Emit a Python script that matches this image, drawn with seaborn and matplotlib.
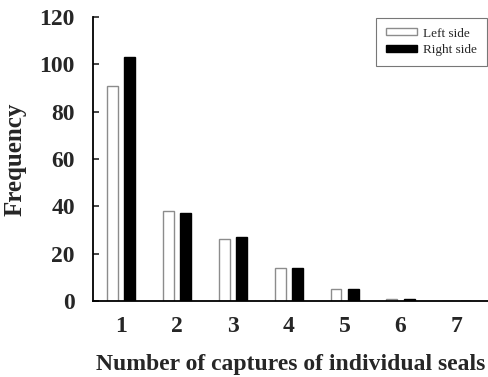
import pandas as pd
import matplotlib
matplotlib.use("Agg")
import matplotlib.pyplot as plt
import seaborn as sns

# Data
captures = ["1", "2", "3", "4", "5", "6", "7"]
left_side = [91, 38, 26, 14, 5, 1, 0]
right_side = [103, 37, 27, 14, 5, 1, 0]
series_names = ["Left side", "Right side"]
y_ticks = [0, 20, 40, 60, 80, 100, 120]

df = pd.DataFrame({
    "captures": captures * 2,
    "freq": left_side + right_side,
    "side": [series_names[0]] * len(captures) + [series_names[1]] * len(captures),
})

sns.set_style("white")
plt.rcParams["font.family"] = ["Liberation Serif", "DejaVu Serif"]

fig = plt.figure(figsize=(4.89, 3.77), dpi=100)
ax = fig.add_axes([0.19, 0.2016, 0.81, 0.7534])

sns.barplot(data=df, x="captures", y="freq", hue="side", order=captures,
            hue_order=series_names, palette=["white", "black"],
            width=0.62, gap=0.37, ax=ax, legend=False)

# outline colours: grey for the open bars, black for the solid ones
edge_cols = ["#8c8c8c", "black"]
for bar_container, ec in zip(ax.containers, edge_cols):
    for p in bar_container:
        p.set_edgecolor(ec)
        p.set_linewidth(1.0)

ax.set_xlim(-0.5, 6.58)
ax.set_ylim(0, 120)
ax.set_yticks(y_ticks)
ax.set_xlabel("Number of captures of individual seals", fontsize=17,
              fontweight="bold", labelpad=12)
ax.set_ylabel("Frequency", fontsize=18, fontweight="bold", labelpad=9)
ax.tick_params(axis="y", direction="in", length=4, width=1.2, left=True,
               labelsize=17, pad=13)
ax.tick_params(axis="x", length=0, labelsize=17, pad=11)
for lab in ax.get_xticklabels() + ax.get_yticklabels():
    lab.set_fontweight("bold")

sns.despine(ax=ax, top=True, right=True)
for s in ["left", "bottom"]:
    ax.spines[s].set_color("black")
    ax.spines[s].set_linewidth(1.3)

# legend built from the bars so the open bar keeps its grey outline
handles = [ax.containers[0][0], ax.containers[1][0]]
leg = ax.legend(handles, series_names, loc="upper right",
                bbox_to_anchor=(0.996, 0.953), bbox_transform=fig.transFigure,
                fontsize=9.5, frameon=True, fancybox=False, edgecolor="#555555",
                handlelength=2.35, handleheight=0.45, handletextpad=0.45,
                borderpad=0.75, labelspacing=0.35, borderaxespad=0)
leg.get_frame().set_linewidth(0.8)

fig.savefig("out.png", dpi=100)
